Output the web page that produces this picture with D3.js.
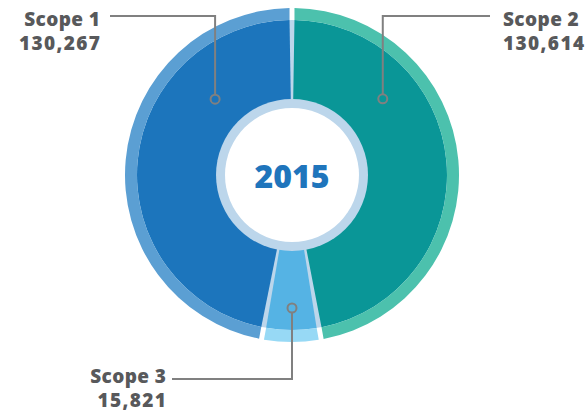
<!DOCTYPE html>
<html>
<head>
<meta charset="utf-8">
<script src="https://cdn.jsdelivr.net/npm/d3@7"></script>
<style>
  body { margin: 0; background: #fff; }
  text { font-family: "Open Sans", sans-serif; }
</style>
</head>
<body>
<svg width="587" height="412"></svg>
<script>
// data
var scopes = ["Scope 2", "Scope 3", "Scope 1"];
var emissions = [130614, 15821, 130267];
var darkColors = ["#0a9697", "#55b3e4", "#1c75bc"];
var lightColors = ["#4cc1ad", "#97d9f5", "#5b9fd3"];
var year = "2015";

var svg = d3.select("svg"),
  width = +svg.attr("width"),
  height = +svg.attr("height");

var cx = 292, cy = 175;
var rOuter = 167, rBand = 155;

var g = svg.append("g").attr("transform", "translate(" + cx + "," + cy + ")");

var pie = d3.pie().sort(null).value(function(d) { return d; });
var arcs = pie(emissions);

//light blue backing shows through the gaps of the dark slices
g.append("circle").attr("r", rBand).attr("fill", "#bcd6eb");

var darkArc = d3.arc().innerRadius(0).outerRadius(rBand)
  .padAngle(0.032).padRadius(rBand);
var bandArc = d3.arc().innerRadius(rBand).outerRadius(rOuter)
  .padAngle(0.032).padRadius(rBand);

g.selectAll("path.dark")
  .data(arcs)
  .enter().append("path")
  .attr("class", "dark")
  .attr("d", darkArc)
  .attr("fill", function(d, i) { return darkColors[i]; });

g.selectAll("path.band")
  .data(arcs)
  .enter().append("path")
  .attr("class", "band")
  .attr("d", bandArc)
  .attr("fill", function(d, i) { return lightColors[i]; });

// center disc
g.append("circle").attr("r", 76).attr("fill", "#bcd6eb");
g.append("circle").attr("r", 67).attr("fill", "#fff");
g.append("text")
  .attr("y", 13)
  .attr("text-anchor", "middle")
  .attr("font-size", 32)
  .attr("font-weight", 800)
  .attr("fill", "#1f75bc")
  .text(year);

// label callouts (same order as the slices): marker polar position, elbow y, side
var markerAngle = [50, 180, -45.4];
var markerRadius = [118.5, 133, 108];
var labelY = [16, 379, 16];
var labelSide = ["right", "bottom", "left"];

var fmt = d3.format(",");
var gray = "#808080";
var nameSpacing = 0.4, numSpacing = 1.4;

arcs.forEach(function(a, i) {
  var ang = markerAngle[i] * Math.PI / 180;
  var mx = cx + markerRadius[i] * Math.sin(ang),
    my = cy - markerRadius[i] * Math.cos(ang);
  var ly = labelY[i];
  var tx, anchor, path, base;
  if (labelSide[i] == "right") {
    tx = 503; anchor = "start"; base = ly + 10;
    path = "M" + mx + "," + (my - 4.5) + "V" + ly + "H" + 490;
  } else if (labelSide[i] == "bottom") {
    tx = 166; anchor = "end"; base = ly + 4;
    path = "M" + mx + "," + (my + 4.5) + "V" + ly + "H" + 172;
  } else {
    tx = 100; anchor = "end"; base = ly + 10;
    path = "M" + mx + "," + (my - 4.5) + "V" + ly + "H" + 110;
  }
  // trailing letter-spacing would push end-anchored text left
  var shift = anchor == "end" ? 1 : 0;
  svg.append("path")
    .attr("d", path)
    .attr("fill", "none").attr("stroke", gray).attr("stroke-width", 2);
  svg.append("circle")
    .attr("cx", mx).attr("cy", my).attr("r", 4.5)
    .attr("fill", "none").attr("stroke", gray).attr("stroke-width", 2);

  svg.append("text")
    .attr("x", tx + shift * nameSpacing).attr("y", base)
    .attr("text-anchor", anchor)
    .attr("font-size", 19)
    .attr("font-weight", 800)
    .attr("letter-spacing", nameSpacing)
    .attr("fill", "#58595b")
    .text(scopes[i]);
  svg.append("text")
    .attr("x", tx + shift * numSpacing).attr("y", base + 24)
    .attr("text-anchor", anchor)
    .attr("font-size", 19)
    .attr("font-weight", 800)
    .attr("letter-spacing", numSpacing)
    .attr("fill", "#58595b")
    .text(fmt(emissions[i]));
});
</script>
</body>
</html>
